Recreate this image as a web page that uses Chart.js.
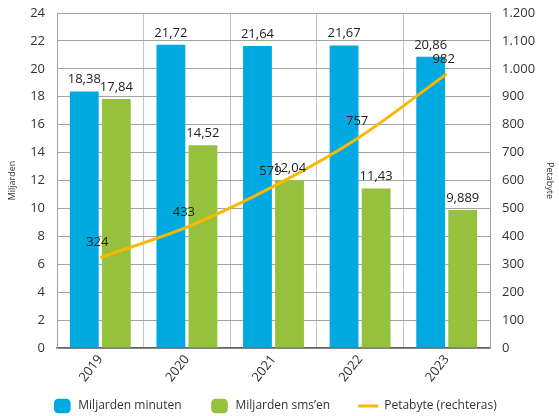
<!DOCTYPE html>
<html>
<head>
<meta charset="utf-8">
<script src="https://cdn.jsdelivr.net/npm/chart.js@4/dist/chart.umd.min.js"></script>
<style>
html,body{margin:0;padding:0;background:#fff;}
#wrap{width:559px;height:416px;position:relative;}
</style>
</head>
<body>
<div id="wrap"><canvas id="c" width="559" height="416"></canvas></div>
<script>
const categories = ['2019', '2020', '2021', '2022', '2023'];
const minuten = [18.38, 21.72, 21.64, 21.67, 20.86];
const smsen = [17.84, 14.52, 12.04, 11.43, 9.889];
const petabyte = [324, 433, 579, 757, 982];
const seriesNames = ['Miljarden minuten', 'Miljarden sms\u2019en', 'Petabyte (rechteras)'];
const leftTitle = 'Miljarden';
const rightTitle = 'Petabyte';

const FONT = "'Open Sans', 'DejaVu Sans', sans-serif";
const BLUE = '#00a9e0';
const GREEN = '#95c13c';
const ORANGE = '#fbb800';

function nlNum(v) { return String(v).replace('.', ','); }
function thousands(v) {
  if (v >= 1000) return Math.floor(v / 1000) + '.' + String(v % 1000).padStart(3, '0');
  return String(v);
}

const labelPlugin = {
  id: 'valueLabels',
  afterLayout(chart) {
    // let the rotated x labels draw below the compact axis box
    const x = chart.scales.x;
    x.bottom = x.top + 60;
    x.height = 60;
    // nudge legend row left
    if (chart.legend) { chart.legend.left -= 5; chart.legend.right -= 5; }
  },
  afterDatasetsDraw(chart) {
    const ctx = chart.ctx;
    ctx.save();
    ctx.font = '13px ' + FONT;
    ctx.fillStyle = '#222';
    ctx.textAlign = 'center';
    ctx.textBaseline = 'middle';
    chart.data.datasets.forEach((ds, di) => {
      const meta = chart.getDatasetMeta(di);
      meta.data.forEach((el, i) => {
        const v = ds.data[i];
        if (ds.type === 'line') {
          ctx.fillText(nlNum(v), el.x - 3, el.y - 15);
        } else {
          ctx.fillText(nlNum(v), el.x, el.y - 12);
        }
      });
    });
    ctx.restore();
  }
};

new Chart(document.getElementById('c'), {
  type: 'bar',
  data: {
    labels: categories,
    datasets: [
      { label: seriesNames[0], data: minuten, backgroundColor: BLUE, yAxisID: 'y', order: 1,
        categoryPercentage: 0.74, barPercentage: 0.9, pointStyle: 'rectRounded' },
      { label: seriesNames[1], data: smsen, backgroundColor: GREEN, yAxisID: 'y', order: 1,
        categoryPercentage: 0.74, barPercentage: 0.9, pointStyle: 'rectRounded' },
      { type: 'line', label: seriesNames[2], data: petabyte, borderColor: ORANGE, backgroundColor: ORANGE,
        borderWidth: 3, pointRadius: 0, tension: 0.3, yAxisID: 'y1', order: 0, pointStyle: 'line' }
    ]
  },
  options: {
    responsive: false,
    animation: false,
    devicePixelRatio: 1,
    layout: { padding: { top: 13, left: 0, right: 0, bottom: 0 } },
    plugins: {
      tooltip: { enabled: false },
      legend: {
        position: 'bottom',
        maxHeight: 44,
        labels: {
          usePointStyle: true,
          pointStyleWidth: 20,
          padding: 28,
          color: '#333',
          font: { family: FONT, size: 12 },
          sort: (a, b) => a.datasetIndex - b.datasetIndex
        }
      }
    },
    scales: {
      x: {
        offset: true,
        grid: { display: true, offset: true, color: '#c4c4c4', lineWidth: 1, drawTicks: false },
        border: { display: true, color: '#666', width: 1.5 },
        ticks: { color: '#333', font: { family: FONT, size: 13 }, minRotation: 52, maxRotation: 52, padding: 4 },
        afterFit: (s) => { s.height = 24; }
      },
      y: {
        position: 'left',
        min: 0, max: 24,
        ticks: { stepSize: 2, color: '#333', font: { family: FONT, size: 13 }, padding: 12 },
        grid: { color: '#a3a3a3', lineWidth: 1, drawTicks: false },
        border: { display: true, color: '#a3a3a3' },
        title: { display: true, text: leftTitle, color: '#333', font: { family: FONT, size: 9 }, padding: { top: 7, bottom: 0 } },
        afterFit: (s) => { s.width = 57; s.paddingTop = 7; s.paddingBottom = 7; }
      },
      y1: {
        position: 'right',
        min: 0, max: 1200,
        ticks: { stepSize: 100, color: '#333', font: { family: FONT, size: 13 }, padding: 12, callback: (v) => thousands(v) },
        grid: { display: false, drawTicks: false },
        border: { display: true, color: '#a3a3a3' },
        title: { display: true, text: rightTitle, color: '#333', font: { family: FONT, size: 9 }, padding: { top: 4, bottom: 0 } },
        afterFit: (s) => { s.width = 69; s.paddingTop = 7; s.paddingBottom = 7; }
      }
    }
  },
  plugins: [labelPlugin]
});
</script>
</body>
</html>
